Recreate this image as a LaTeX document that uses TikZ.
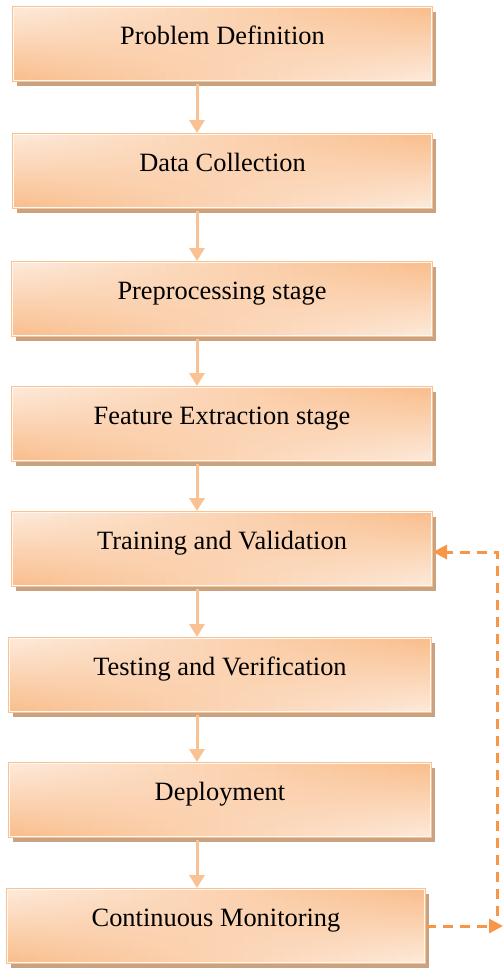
\documentclass[tikz,border=0pt]{standalone}
\usepackage{fontspec}
\setmainfont{Liberation Serif}
\usetikzlibrary{arrows.meta}

\definecolor{bxdark}{HTML}{F9BD8B}
\definecolor{bxlight}{HTML}{FDEADB}
\definecolor{bxline}{HTML}{F9C293}
\definecolor{bxshadow}{HTML}{C9A281}
\definecolor{flowcol}{HTML}{FAC192}
\definecolor{loopcol}{HTML}{F79646}

\tikzset{
  stagebox/.style={draw=bxline, line width=2bp, minimum height=74bp, inner sep=0pt},
  stagetext/.style={anchor=base, font=\fontsize{26.4bp}{30bp}\selectfont, inner sep=0pt},
  flow/.style={draw=flowcol, line width=3bp,
    -{Triangle[width=15bp,length=13bp]}},
  loop/.style={draw=loopcol, line width=3bp, dash pattern=on 10bp off 7bp,
    -{Triangle[width=14bp,length=14bp]}}
}

\begin{document}
\begin{tikzpicture}[x=1bp,y=-1bp]
\useasboundingbox (0,0) rectangle (503,968);

% stage boxes: (left, top, right); 74 high
\foreach \nm/\l/\t/\r in {b1/13/7/432, b2/13/134/432, b3/12/262/432, b4/12/387/432,
                          b5/12/512/432, b6/9/638/431, b7/9/763/431, b8/7/889/425}{
  \pgfmathsetmacro{\cx}{(\l+\r)/2}
  \pgfmathsetmacro{\cy}{\t+37}
  \pgfmathsetmacro{\w}{\r-\l}
  % drop shadow
  \fill[bxshadow] ({\l+4},{\t+5}) rectangle ({\r+4},{\t+79});
  % diagonal fill in vertical strips: darker toward the top-right and bottom-left corners
  \foreach \i in {0,...,29}{
    \pgfmathsetmacro{\pt}{100*(\i+0.5)/30}
    \pgfmathsetmacro{\pm}{100*abs((\i+0.5)/30-0.5)}
    \pgfmathsetmacro{\pb}{100-\pt}
    \shade[top color=bxdark!\pt!bxlight, middle color=bxdark!\pm!bxlight,
           bottom color=bxdark!\pb!bxlight]
      ({\l+\i*\w/30},\t) rectangle ({\l+(\i+1)*\w/30+0.7},{\t+74});
  }
  \node[stagebox, minimum width=\w bp] (\nm) at (\cx,\cy) {};
  \draw[white!60!bxlight, line width=0.8bp]
    ([xshift=1.8bp,yshift=-1.8bp]\nm.north west) rectangle ([xshift=-1.8bp,yshift=1.8bp]\nm.south east);
}

\node[stagetext] (t1) at (b1.center) {Problem Definition};
\node[stagetext] (t2) at (b2.center) {Data Collection};
\node[stagetext] (t3) at (b3.center) {Preprocessing stage};
\node[stagetext] (t4) at (b4.center) {Feature Extraction stage};
\node[stagetext] (t5) at (b5.center) {Training and Validation};
\node[stagetext] (t6) at (b6.center) {Testing and Verification};
\node[stagetext] (t7) at (b7.center) {Deployment};
\node[stagetext] (t8) at (b8.center) {Continuous Monitoring};

% downward flow
\coordinate (ax) at (197,0);
\foreach \a/\b in {b1/b2, b2/b3, b3/b4, b4/b5, b5/b6, b6/b7, b7/b8}{
  \draw[flow] ([yshift=-2bp]\a.south -| ax) -- (\b.north -| ax);
}

% monitoring feedback loop
\coordinate (c1) at (497,552);
\coordinate (c2) at (497,916);
\coordinate (c3) at (503,926);
\draw[loop] (c2) -- (c1) -- (c1 -| b5.east);
\draw[loop] (b8.east) -- (c3);
\end{tikzpicture}
\end{document}
